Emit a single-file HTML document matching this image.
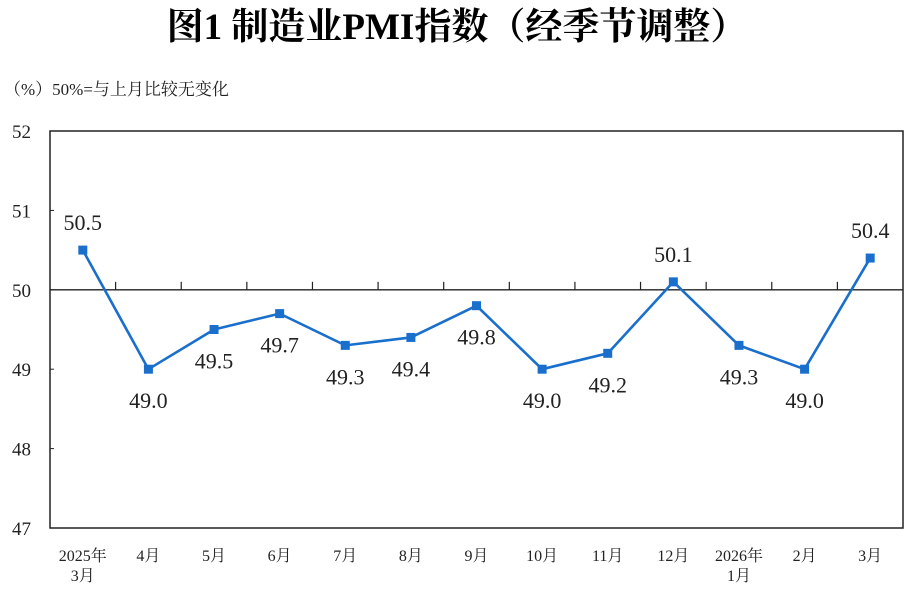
<!DOCTYPE html>
<html><head><meta charset="utf-8"><style>
body{margin:0;background:#fff;}
svg{display:block;}
</style></head><body>
<svg id="chart" width="914" height="609" xmlns="http://www.w3.org/2000/svg">
<text x="457" y="39" text-anchor="middle" font-family="'Liberation Serif','Noto Serif CJK SC',serif" font-weight="bold" font-size="37" fill="#000">图1  制造业PMI指数（经季节调整）</text>
<text x="4" y="95" font-family="'Liberation Serif','Noto Serif CJK SC',serif" font-size="17" fill="#222">（%）50%=与上月比较无变化</text>
<rect x="50" y="131" width="853" height="397" fill="none" stroke="#222" stroke-width="1.5"/>
<g id="axes"></g>
<g id="series"></g>
</svg>
<script>
const categories=[["2025年","3月"],["4月"],["5月"],["6月"],["7月"],["8月"],["9月"],["10月"],["11月"],["12月"],["2026年","1月"],["2月"],["3月"]];
const pmiValues=[50.5,49.0,49.5,49.7,49.3,49.4,49.8,49.0,49.2,50.1,49.3,49.0,50.4];
const yTicks=[47,48,49,50,51,52];
const NS="http://www.w3.org/2000/svg";
const L=50,R=903,T=131,B=528,yMin=47,yMax=52;
const bw=(R-L)/categories.length;
function xs(i){return L+bw*(i+0.5);}
function ys(v){return B-(v-yMin)/(yMax-yMin)*(B-T);}
function mk(tag,attrs,parent){const e=document.createElementNS(NS,tag);for(const k in attrs)e.setAttribute(k,attrs[k]);parent.appendChild(e);return e;}
const ax=document.getElementById('axes'),se=document.getElementById('series');
const serif="'Liberation Serif','Noto Serif CJK SC',serif";
yTicks.forEach(t=>{
  const tx=mk('text',{x:31,y:ys(t)+7,'text-anchor':'end','font-family':serif,'font-size':19,fill:'#222'},ax);
  tx.textContent=t;
  
  
  if(t>yMin&&t<yMax){const tl=mk('line',{x1:L,x2:L+4,y1:ys(t),y2:ys(t),stroke:'#222','stroke-width':1},ax);
  
  }
});
const base=mk('line',{x1:L,x2:R,y1:ys(50),y2:ys(50),stroke:'#222','stroke-width':1.3},ax);


for(let i=1;i<categories.length;i++){
  const x=L+bw*i;
  const tk=mk('line',{x1:x,x2:x,y1:ys(50)-8,y2:ys(50),stroke:'#222','stroke-width':1.2},ax);
  
  
}
categories.forEach((c,i)=>{
  c.forEach((ln,j)=>{
    const tx=mk('text',{x:xs(i),y:561+j*20,'text-anchor':'middle','font-family':serif,'font-size':16,fill:'#222'},ax);
    tx.textContent=ln;
    
    
  });
});
const pts=pmiValues.map((v,i)=>xs(i)+','+ys(v)).join(' ');
const pl=mk('polyline',{points:pts,fill:'none',stroke:'#1a6fcc','stroke-width':2.6,'stroke-linejoin':'round'},se);


pmiValues.forEach((v,i)=>{
  const x=xs(i),y=ys(v);
  const m=mk('rect',{x:x-4.5,y:y-4.5,width:9,height:9,fill:'#1a6fcc'},se);
  
  
  const above = v>=50;
  const ly= above? y-20 : y+39;
  const tx=mk('text',{x:x,y:ly,'text-anchor':'middle','font-family':serif,'font-size':22,fill:'#222'},se);
  tx.textContent=v.toFixed(1);
  
  
});
</script>
</body></html>
